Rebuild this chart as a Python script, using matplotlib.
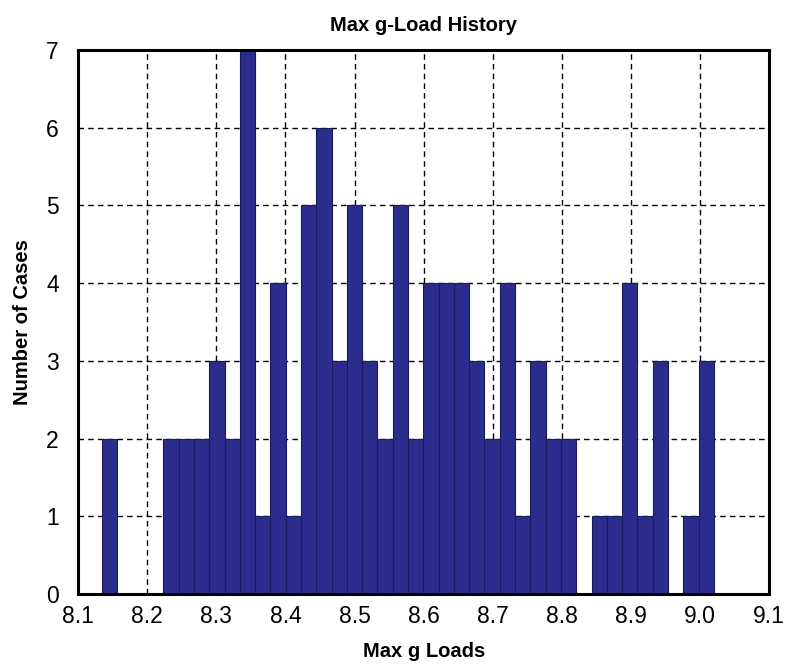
import numpy as np
import matplotlib
matplotlib.use("Agg")
import matplotlib.pyplot as plt

# Data
counts = [2, 0, 0, 0, 2, 2, 2, 3, 2, 7, 1, 4, 1, 5, 6, 3, 5, 3, 2, 5,
          2, 4, 4, 4, 3, 2, 4, 1, 3, 2, 2, 0, 1, 1, 4, 1, 3, 0, 1, 3]
bin_lo = 8.1346
bin_hi = 9.0202
xticks = [8.1, 8.2, 8.3, 8.4, 8.5, 8.6, 8.7, 8.8, 8.9, 9.0, 9.1]
xtick_labels = ["8.1", "8.2", "8.3", "8.4", "8.5", "8.6", "8.7", "8.8", "8.9", "9.0", "9.1"]
yticks = [0, 1, 2, 3, 4, 5, 6, 7]

plt.rcParams['font.family'] = ['Liberation Sans', 'DejaVu Sans']

fig = plt.figure(figsize=(7.85, 6.66), dpi=100)
ax = fig.add_axes([0.0997, 0.108, 0.8799, 0.817])

edges = np.linspace(bin_lo, bin_hi, len(counts) + 1)
ax.bar(edges[:-1], counts, width=np.diff(edges), align='edge',
       color='#2b2d8c', edgecolor='#1a1b5c', linewidth=0.8, zorder=3)

ax.set_xlim(8.1, 9.1)
ax.set_ylim(0, 7)
ax.set_xticks(xticks)
ax.set_xticklabels(xtick_labels)
ax.set_yticks(yticks)
ax.grid(True, color='black', linestyle=(0, (4, 3)), linewidth=1.0, zorder=1)
ax.set_axisbelow(True)
for s in ax.spines.values():
    s.set_linewidth(2.2)
    s.set_zorder(5)
ax.tick_params(axis='both', direction='in', length=0, labelsize=16.5)
ax.tick_params(axis='x', pad=8)
ax.tick_params(axis='y', pad=14)

ax.set_title("Max g-Load History", fontsize=14.5, fontweight='bold', pad=14)
ax.set_xlabel("Max g Loads", fontsize=14.5, fontweight='bold', labelpad=10)
ax.set_ylabel("Number of Cases", fontsize=14.5, fontweight='bold', labelpad=10)

fig.savefig("out.png", dpi=100)
